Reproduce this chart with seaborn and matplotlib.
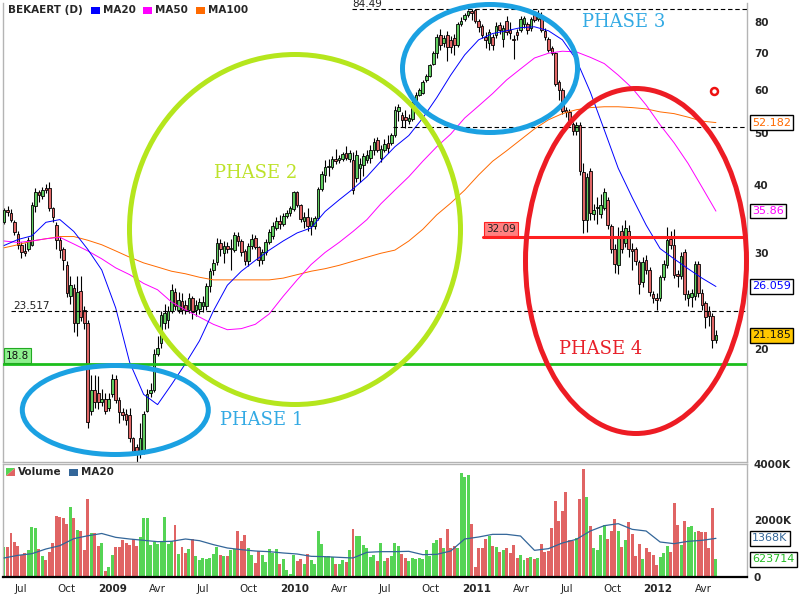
import numpy as np
import pandas as pd
import matplotlib
matplotlib.use("Agg")
import matplotlib.pyplot as plt
import matplotlib.ticker as mticker
from matplotlib.patches import Ellipse, Rectangle, Polygon
from matplotlib.transforms import blended_transform_factory
import seaborn as sns

# ---------------- data (weekly candles, BEKAERT) ----------------
start_date = "2008-05-29"

opens = [34.3, 36.1, 35.6, 34.3, 32.6, 31.1, 30.3, 30.6, 31.1, 36.6,
         38.9, 38.2, 39.6, 39.6, 36.3, 33.8, 31.7, 30.5, 28.6, 25.0,
         25.9, 22.3, 25.6, 23.6, 22.3, 15.4, 16.8, 16.6, 16.0, 16.2,
         15.6, 16.5, 17.6, 16.1, 15.3, 15.2, 15.1, 13.7, 13.2, 12.9,
         13.0, 15.4, 16.6, 16.8, 19.6, 20.5, 22.3, 22.6, 23.5, 25.5,
         23.6, 24.5, 24.1, 23.6, 24.8, 23.6, 23.7, 24.0, 24.0, 26.1,
         28.0, 28.9, 31.3, 30.0, 31.0, 30.5, 30.4, 32.3, 31.6, 30.3,
         29.0, 31.0, 32.0, 30.8, 29.1, 30.1, 31.5, 32.3, 33.4, 34.4,
         34.0, 35.1, 35.6, 36.2, 38.9, 36.8, 34.4, 35.0, 33.7, 33.6,
         34.9, 39.4, 41.8, 43.2, 43.2, 44.8, 44.6, 44.8, 45.9, 44.8,
         44.6, 41.3, 43.0, 43.6, 44.6, 45.0, 46.5, 48.5, 45.0, 46.5,
         47.9, 47.9, 49.5, 54.7, 53.9, 53.5, 52.6, 53.0, 57.4, 58.7,
         59.2, 62.5, 63.5, 66.9, 70.1, 75.7, 73.1, 75.7, 74.1, 74.7,
         72.5, 79.2, 80.9, 82.2, 83.6, 84.0, 80.3, 78.6, 75.0, 73.1,
         75.0, 75.7, 78.9, 74.4, 80.3, 77.3, 74.4, 76.6, 77.3, 79.2,
         79.2, 77.9, 82.4, 81.0, 81.3, 77.0, 74.4, 71.6, 70.1, 61.9,
         59.9, 55.1, 54.5, 51.9, 50.4, 51.7, 42.3, 34.5, 42.5, 35.4,
         36.3, 35.4, 36.3, 37.6, 33.6, 30.5, 28.6, 32.9, 31.3, 33.0,
         30.6, 30.5, 28.9, 26.6, 29.2, 28.0, 25.2, 24.8, 24.8, 27.1,
         28.6, 31.9, 31.1, 27.5, 27.2, 30.1, 24.8, 24.9, 25.0, 28.7,
         25.4, 24.3, 23.5, 23.0, 20.8]

highs = [36.4, 36.6, 36.2, 34.6, 32.9, 31.4, 31.3, 32.2, 37.2, 39.6,
         39.3, 39.8, 40.3, 40.5, 36.5, 34.3, 32.3, 30.8, 29.0, 27.3,
         26.3, 27.3, 27.3, 24.0, 22.6, 17.9, 17.9, 17.8, 16.9, 16.6,
         16.6, 18.0, 17.9, 16.3, 15.6, 15.5, 15.6, 13.8, 13.4, 14.6,
         15.4, 16.9, 17.3, 20.0, 21.1, 23.5, 24.2, 24.0, 26.3, 25.9,
         25.5, 25.3, 24.6, 25.3, 25.0, 24.6, 24.8, 25.0, 26.4, 28.2,
         29.3, 32.0, 31.8, 31.6, 31.5, 31.9, 32.8, 32.8, 31.8, 30.5,
         31.3, 32.6, 32.4, 31.0, 30.5, 31.9, 33.3, 34.3, 35.0, 35.3,
         35.6, 36.0, 36.7, 39.0, 39.1, 37.0, 35.7, 36.4, 35.0, 35.2,
         39.8, 42.5, 44.5, 44.8, 45.2, 46.6, 45.5, 46.1, 47.3, 46.5,
         46.0, 46.5, 45.0, 45.8, 46.5, 47.5, 48.8, 49.0, 47.5, 48.6,
         49.5, 50.0, 56.0, 56.4, 54.5, 55.0, 54.2, 57.2, 59.3, 60.5,
         62.4, 64.0, 67.0, 70.8, 76.0, 77.5, 75.5, 77.0, 75.2, 76.0,
         80.0, 81.5, 83.0, 84.2, 84.3, 84.49, 80.8, 79.2, 76.5, 77.5,
         75.8, 80.0, 79.8, 79.0, 82.0, 80.0, 75.5, 77.5, 81.8, 82.0,
         80.0, 81.5, 83.5, 84.0, 83.3, 77.8, 75.0, 72.3, 70.5, 62.5,
         60.5, 55.8, 55.3, 52.2, 52.2, 52.2, 44.0, 42.2, 43.0, 37.0,
         38.0, 38.5, 39.5, 38.0, 34.0, 31.2, 33.5, 33.8, 34.6, 33.8,
         31.3, 30.8, 29.2, 29.5, 29.8, 28.3, 25.6, 25.3, 27.4, 29.2,
         33.5, 33.0, 33.2, 28.0, 30.2, 30.5, 25.7, 25.8, 29.0, 29.0,
         25.8, 24.5, 24.0, 23.3, 21.7]

lows = [33.9, 35.2, 34.2, 32.4, 30.6, 29.4, 29.6, 30.3, 30.9, 35.8,
        37.2, 37.8, 38.8, 35.9, 34.2, 30.6, 29.4, 28.0, 24.9, 24.2,
        21.5, 21.1, 22.5, 21.8, 14.3, 15.1, 15.6, 15.5, 15.7, 15.2,
        15.4, 16.3, 15.9, 14.6, 14.8, 14.5, 13.5, 12.8, 12.4, 12.6,
        12.8, 15.3, 16.3, 16.7, 19.4, 20.1, 21.8, 21.9, 23.3, 23.6,
        23.3, 23.2, 23.2, 23.3, 22.7, 23.0, 23.2, 23.4, 23.6, 25.5,
        27.4, 28.5, 29.6, 28.8, 30.0, 28.0, 30.1, 31.0, 29.7, 28.5,
        28.4, 30.5, 30.5, 28.4, 28.7, 29.8, 31.2, 31.9, 33.1, 33.3,
        33.7, 34.8, 35.2, 35.9, 36.5, 34.3, 33.4, 33.0, 32.4, 33.2,
        34.6, 39.0, 40.5, 41.6, 42.9, 43.8, 44.0, 44.3, 44.5, 44.2,
        38.5, 40.5, 40.5, 41.6, 44.0, 44.0, 45.5, 46.0, 44.2, 46.0,
        45.8, 47.5, 49.0, 52.5, 51.2, 51.0, 51.8, 52.5, 56.8, 58.3,
        58.8, 62.0, 63.2, 66.5, 68.7, 71.0, 72.0, 67.8, 70.0, 69.5,
        72.0, 78.5, 80.3, 81.5, 80.5, 79.5, 76.5, 74.8, 71.5, 71.0,
        71.0, 74.8, 76.0, 72.0, 75.5, 74.5, 68.3, 74.0, 76.5, 78.0,
        76.0, 77.0, 80.0, 80.3, 76.5, 74.0, 70.5, 69.5, 61.0, 57.4,
        54.0, 53.5, 52.0, 49.5, 49.6, 41.8, 32.7, 32.8, 34.5, 34.5,
        34.0, 34.8, 36.0, 33.3, 30.0, 27.6, 27.5, 30.0, 30.8, 29.5,
        28.0, 28.6, 25.2, 26.0, 27.5, 25.0, 24.3, 23.6, 24.5, 26.8,
        28.2, 30.5, 27.0, 26.0, 26.9, 24.6, 24.0, 23.9, 24.6, 24.9,
        23.6, 21.9, 22.0, 20.1, 20.5]

closes = [36.1, 35.8, 34.5, 32.8, 31.1, 30.2, 30.0, 31.7, 36.8, 38.9,
          38.4, 39.3, 39.2, 36.3, 35.0, 31.7, 30.4, 29.2, 25.3, 26.2,
          22.3, 25.5, 22.9, 22.3, 14.7, 16.8, 16.0, 16.0, 16.2, 15.4,
          16.2, 17.6, 16.1, 15.3, 15.1, 14.8, 13.7, 13.0, 12.8, 13.7,
          15.2, 16.5, 16.8, 19.6, 20.1, 23.1, 23.3, 23.5, 25.7, 24.0,
          24.6, 23.6, 23.6, 24.8, 23.4, 24.1, 24.4, 24.4, 26.1, 27.8,
          28.8, 31.3, 30.6, 31.0, 30.5, 30.7, 32.4, 31.6, 30.2, 29.0,
          31.0, 31.9, 30.8, 29.2, 30.1, 31.5, 32.8, 33.6, 34.4, 33.9,
          35.1, 35.6, 36.3, 38.9, 36.8, 34.7, 35.0, 33.6, 34.4, 34.9,
          39.4, 42.0, 43.2, 43.4, 44.8, 44.4, 44.9, 45.7, 44.9, 45.9,
          39.2, 45.5, 43.8, 45.3, 45.5, 46.5, 48.0, 46.5, 46.7, 47.7,
          46.9, 49.5, 55.1, 55.8, 52.8, 52.8, 53.2, 56.6, 58.7, 59.9,
          61.9, 63.5, 66.6, 70.1, 75.0, 72.5, 74.7, 71.9, 71.9, 72.5,
          79.2, 80.3, 82.4, 83.6, 83.0, 80.3, 78.3, 75.7, 74.1, 76.6,
          72.5, 78.6, 77.3, 77.9, 76.6, 76.3, 74.1, 75.7, 81.0, 81.3,
          77.3, 80.9, 80.6, 82.9, 77.3, 75.0, 71.0, 70.1, 61.5, 59.9,
          54.9, 54.5, 52.8, 50.4, 51.7, 42.5, 34.5, 41.5, 35.6, 36.1,
          36.5, 36.8, 38.9, 33.8, 30.5, 28.7, 32.2, 30.5, 33.4, 30.5,
          30.3, 29.0, 26.3, 28.9, 27.95, 25.5, 24.8, 24.6, 27.1, 28.7,
          31.7, 31.1, 27.4, 27.2, 29.7, 25.2, 25.2, 25.3, 28.7, 25.3,
          24.1, 22.9, 23.0, 20.8, 21.185]

volumes_k = [1062, 1062, 1558, 1251, 1086, 779, 850, 944, 1770, 1735,
             991, 755, 614, 897, 1215, 2171, 2120, 2077, 1888, 2490,
             2077, 1676, 1640, 968, 2761, 1569, 1569, 1109, 1215, 224,
             342, 791, 1074, 1074, 1322, 1215, 1121, 1345, 1086, 1404,
             2100, 2077, 1145, 1227, 1168, 1251, 2136, 1156, 1263, 1853,
             826, 1074, 850, 1003, 1345, 755, 614, 661, 637, 661,
             814, 1062, 767, 732, 732, 956, 991, 1617, 1263, 1487,
             1027, 767, 496, 909, 791, 543, 991, 838, 991, 460,
             649, 260, 118, 791, 578, 649, 472, 814, 614, 472,
             1640, 1180, 708, 743, 696, 472, 472, 590, 543, 968,
             1711, 1463, 1463, 1145, 1038, 708, 779, 578, 1215, 578,
             684, 732, 1215, 1100, 802, 684, 566, 684, 625, 673,
             625, 944, 732, 1204, 1298, 1392, 1027, 1711, 1027, 1086,
             1038, 3693, 3540, 3599, 1864, 354, 1038, 1038, 1333, 1463,
             1109, 1062, 885, 968, 1027, 850, 1121, 673, 767, 614,
             684, 708, 625, 673, 1156, 885, 920, 1735, 2690, 1971,
             2336, 3009, 1298, 1263, 1392, 2749, 3811, 2832, 1805, 1027,
             968, 1475, 1853, 1333, 1628, 2065, 1628, 1062, 1322, 1935,
             1534, 732, 1180, 625, 1038, 885, 791, 413, 708, 861,
             1086, 885, 2620, 1829, 1121, 1971, 1770, 1805, 1593, 1628,
             1593, 1593, 1027, 2443, 624]

# moving averages, read every 4th week (week 0, 4, ..., 204)
ma_weeks = list(range(0, 205, 4))
ma20 = [31.0, 31.8, 32.3, 34.2, 34.6, 32.9, 30.5, 27.95, 23.8, 18.9,
        16.5, 15.8, 17.2, 18.8, 20.7, 23.5, 26.2, 27.8, 29.1, 30.4,
        31.6, 32.7, 33.4, 35.8, 37.6, 39.4, 41.5, 44.3, 47.1, 49.4,
        53.2, 58.0, 63.8, 69.5, 74.1, 76.1, 77.0, 78.0, 78.3, 77.0,
        74.1, 68.1, 59.4, 50.6, 43.0, 38.0, 33.8, 30.6, 29.3, 28.1,
        27.0, 26.059]
ma50 = [31.6, 31.4, 31.6, 31.9, 32.1, 31.2, 30.3, 29.3, 28.2, 27.4,
        26.4, 25.7, 24.4, 23.6, 22.9, 22.2, 21.7, 21.8, 22.2, 23.2,
        25.0, 26.8, 28.6, 30.1, 31.4, 32.9, 34.6, 37.0, 39.2, 41.5,
        44.3, 47.1, 49.7, 53.2, 56.0, 59.0, 62.5, 65.5, 68.6, 70.0,
        70.6, 70.4, 68.8, 67.0, 63.8, 60.4, 56.2, 51.7, 47.9, 43.9,
        39.7, 35.86]
ma100 = [30.7, 31.1, 31.6, 31.9, 32.2, 32.2, 31.7, 31.1, 30.3, 29.5,
         28.8, 28.3, 27.8, 27.5, 27.1, 26.8, 26.8, 26.8, 26.8, 26.8,
         27.0, 27.4, 27.8, 28.1, 28.5, 29.0, 29.5, 30.0, 30.4, 31.6,
         33.2, 35.3, 37.1, 39.2, 41.8, 44.3, 46.3, 48.5, 50.8, 52.8,
         54.2, 55.1, 55.6, 55.8, 55.8, 55.6, 55.3, 54.6, 54.2, 53.4,
         52.5, 52.182]
vol_ma20 = [673, 767, 826, 991, 1109, 1357, 1460, 1540, 1404, 1345,
            1298, 1251, 1263, 1345, 1286, 1145, 1027, 968, 920, 897,
            850, 814, 732, 720, 696, 673, 873, 897, 897, 909,
            791, 802, 920, 1345, 1416, 1510, 1510, 1451, 944, 1003,
            1204, 1333, 1628, 1817, 1888, 1687, 1628, 1239, 1180, 1263,
            1298, 1368]

price_ticks = [20, 30, 40, 50, 60, 70, 80]
vol_ticks = [0, 2000, 4000]
vol_tick_labels = ["0", "2000K", "4000K"]
tick_dates = ["2008-07-01", "2008-10-01", "2009-01-01", "2009-04-01",
              "2009-07-01", "2009-10-01", "2010-01-01", "2010-04-01",
              "2010-07-01", "2010-10-01", "2011-01-01", "2011-04-01",
              "2011-07-01", "2011-10-01", "2012-01-01", "2012-04-01"]
tick_labels = ["Jul", "Oct", "2009", "Avr", "Jul", "Oct", "2010", "Avr",
               "Jul", "Oct", "2011", "Avr", "Jul", "Oct", "2012", "Avr"]

level_high = 84.49
level_resist = 51.2
level_support = 23.517
level_red = 32.09
level_green = 18.8
signal_week = 203.4
signal_price = 59.7

# ---------------- style ----------------
sns.set_style("white")
plt.rcParams['font.family'] = ['DejaVu Sans']

W, H = 800, 600
fig = plt.figure(figsize=(W / 100, H / 100), dpi=100)
fig.patch.set_facecolor("white")


def fx(px):
    return px / W


def fy(py):
    return 1 - py / H


X_LEFT, X_RIGHT = -0.29, 212.9

ax = fig.add_axes([fx(3), fy(462), 744 / W, 459 / H])
axv = fig.add_axes([fx(3), fy(577), 744 / W, 113 / H])

df = pd.DataFrame({"week": np.arange(len(closes)), "open": opens, "high": highs,
                   "low": lows, "close": closes, "volume": volumes_k})
up = (df["close"] >= df["open"]).values
candle_col = np.where(up, "#5fcc5f", "#e06666")
vol_col = np.where(up, "#55d455", "#e06464")

# ---------------- price panel ----------------
ax.set_yscale("log")
ax.vlines(df["week"], df["low"], df["high"], color="black", lw=0.8, zorder=2)
body_lo = np.minimum(df["open"], df["close"])
body_h = np.maximum(np.abs(df["close"] - df["open"]), body_lo * 0.004)
ax.bar(df["week"], body_h, bottom=body_lo, width=0.75, color=candle_col,
       edgecolor="black", linewidth=0.6, zorder=3)

ma = pd.DataFrame({"week": ma_weeks, "MA20": ma20, "MA50": ma50, "MA100": ma100})
for name, c in [("MA100", "#ff6a00"), ("MA50", "#ff00ff"), ("MA20", "#0000ff")]:
    sns.lineplot(data=ma, x="week", y=name, ax=ax, color=c, linewidth=0.7, zorder=4)

dash = (0, (4, 2.5))
ax.plot([99.7, X_RIGHT], [level_high] * 2, color="black", lw=0.8, ls=dash, zorder=5)
ax.plot([111.5, X_RIGHT], [level_resist] * 2, color="black", lw=0.8, ls=dash, zorder=5)
ax.plot([2.0, X_RIGHT], [level_support] * 2, color="black", lw=0.8, ls=dash, zorder=5)
ax.plot([137.2, X_RIGHT], [level_red] * 2, color="#ff2020", lw=2.2, zorder=5)
ax.plot([X_LEFT, X_RIGHT], [level_green] * 2, color="#1cbf1c", lw=2.0, zorder=5)
ax.plot(signal_week, signal_price, marker="o", ms=5, mfc="white", mec="#ee1111",
        mew=1.8, zorder=6)

ax.text(99.7, level_high, "84.49", ha="left", va="bottom", fontsize=7.5,
        color="#222222", clip_on=False)
ax.text(2.6, level_support, "23.517", ha="left", va="bottom", fontsize=7.5,
        color="#222222")

trans_p = blended_transform_factory(ax.transAxes, ax.transData)
ax.annotate("18.8", xy=(0, level_green), xycoords=trans_p, xytext=(3, 3),
            textcoords="offset pixels", ha="left", va="bottom", fontsize=7.5,
            color="#111111", annotation_clip=False, zorder=7,
            bbox=dict(boxstyle="square,pad=0.2", fc="#8ef08e", ec="#22aa22", lw=0.8))
ax.annotate("32.09", xy=(137.4, level_red), xycoords="data", xytext=(3, 3),
            textcoords="offset pixels", ha="left", va="bottom", fontsize=7.5,
            color="#222222", annotation_clip=False, zorder=7,
            bbox=dict(boxstyle="square,pad=0.2", fc="#ff8080", ec="#ff2020", lw=0.8))

for val, txt, tc, fc in [(52.182, "52.182", "#ff6a00", "white"),
                         (35.86, "35.86", "#ff00ff", "white"),
                         (26.059, "26.059", "#0000ff", "white"),
                         (21.185, "21.185", "#111111", "#ffc800")]:
    ax.annotate(txt, xy=(1, val), xycoords=trans_p, xytext=(5, 0),
                textcoords="offset pixels", ha="left", va="center", fontsize=8,
                color=tc, annotation_clip=False, zorder=8,
                bbox=dict(boxstyle="square,pad=0.2", fc=fc, ec="black", lw=1.0))

ax.set_ylim(12.39, 86.6)
ax.set_yticks(price_ticks)
ax.set_yticklabels([str(t) for t in price_ticks])
ax.yaxis.set_minor_locator(mticker.NullLocator())
ax.yaxis.tick_right()
ax.tick_params(axis="y", length=0, pad=5, labelsize=7.5)
for lab in ax.get_yticklabels():
    lab.set_fontweight("bold")
ax.set_xticks([])

# ---------------- volume panel ----------------
axv.bar(df["week"], df["volume"], width=0.85, color=vol_col, linewidth=0, zorder=2)
sns.lineplot(x=ma_weeks, y=vol_ma20, ax=axv, color="#336699", linewidth=0.9, zorder=4)
axv.set_ylim(0, 4000)
axv.set_yticks(vol_ticks)
axv.set_yticklabels(vol_tick_labels)
axv.yaxis.tick_right()
axv.tick_params(axis="y", length=0, pad=5, labelsize=7.5)
for lab in axv.get_yticklabels():
    lab.set_fontweight("bold")

tick_pos = ((pd.to_datetime(tick_dates) - pd.Timestamp(start_date)).days / 7.0).values
axv.set_xticks(tick_pos)
axv.set_xticklabels(tick_labels)
axv.tick_params(axis="x", length=0, pad=5, labelsize=7.5)
for lab in axv.get_xticklabels():
    if lab.get_text().isdigit():
        lab.set_fontweight("bold")

trans_v = blended_transform_factory(axv.transAxes, axv.transData)
for val, txt, tc in [(1368, "1368K", "#336699"), (623.7, "623714", "#22bb22")]:
    axv.annotate(txt, xy=(1, val), xycoords=trans_v, xytext=(5, 0),
                 textcoords="offset pixels", ha="left", va="center", fontsize=8,
                 color=tc, annotation_clip=False, zorder=8,
                 bbox=dict(boxstyle="square,pad=0.2", fc="white", ec="black", lw=1.0))

for a in (ax, axv):
    a.set_xlim(X_LEFT, X_RIGHT)
    a.set_xlabel("")
    a.set_ylabel("")
    a.set_facecolor("white")
    for s in a.spines.values():
        s.set_color("#b4b4b4")
        s.set_linewidth(1.0)
ax.spines["top"].set_visible(False)
axv.spines["bottom"].set_color("black")
axv.spines["bottom"].set_linewidth(1.6)

# ---------------- legends ----------------
fig.text(fx(8), fy(10), "BEKAERT (D)", fontsize=7.5, fontweight="bold",
         va="center", ha="left")
for sx, tx, c, lbl in [(91, 103, "#0000ff", "MA20"), (143, 155, "#ff00ff", "MA50"),
                       (196, 208, "#ff6a00", "MA100")]:
    fig.add_artist(Rectangle((fx(sx), fy(14)), 9 / W, 7 / H, transform=fig.transFigure,
                             fc=c, ec="none"))
    fig.text(fx(tx), fy(10), lbl, fontsize=7.5, fontweight="bold", va="center", ha="left")

fig.add_artist(Polygon([[fx(6), fy(476)], [fx(6), fy(468)], [fx(15), fy(468)]],
                       closed=True, transform=fig.transFigure, fc="#55d455", ec="none"))
fig.add_artist(Polygon([[fx(6), fy(476)], [fx(15), fy(476)], [fx(15), fy(468)]],
                       closed=True, transform=fig.transFigure, fc="#e06464", ec="none"))
fig.text(fx(18), fy(472), "Volume", fontsize=7.5, fontweight="bold", va="center", ha="left")
fig.add_artist(Rectangle((fx(69), fy(476)), 9 / W, 7 / H, transform=fig.transFigure,
                         fc="#336699", ec="none"))
fig.text(fx(81), fy(472), "MA20", fontsize=7.5, fontweight="bold", va="center", ha="left")

# ---------------- phase annotations ----------------
for cx, cy, w, h, c in [(115.3, 410, 186, 89, "#1ba1e2"),
                        (295, 229.5, 331, 350, "#b5e61d"),
                        (490, 68.5, 175, 128, "#1ba1e2"),
                        (636, 261, 221, 345, "#ed1c24")]:
    fig.add_artist(Ellipse((fx(cx), fy(cy)), w / W, h / H, transform=fig.transFigure,
                           fill=False, ec=c, lw=3.6, zorder=10))

for cx, cy, txt, c in [(262, 420, "PHASE 1", "#33aae4"),
                       (256, 173, "PHASE 2", "#bde22a"),
                       (624, 22, "PHASE 3", "#33aae4"),
                       (601, 349, "PHASE 4", "#e8202a")]:
    fig.text(fx(cx), fy(cy), txt, ha="center", va="center", fontsize=13,
             family="DejaVu Serif", color=c, zorder=11)

fig.savefig("out.png", dpi=100, facecolor="white")
